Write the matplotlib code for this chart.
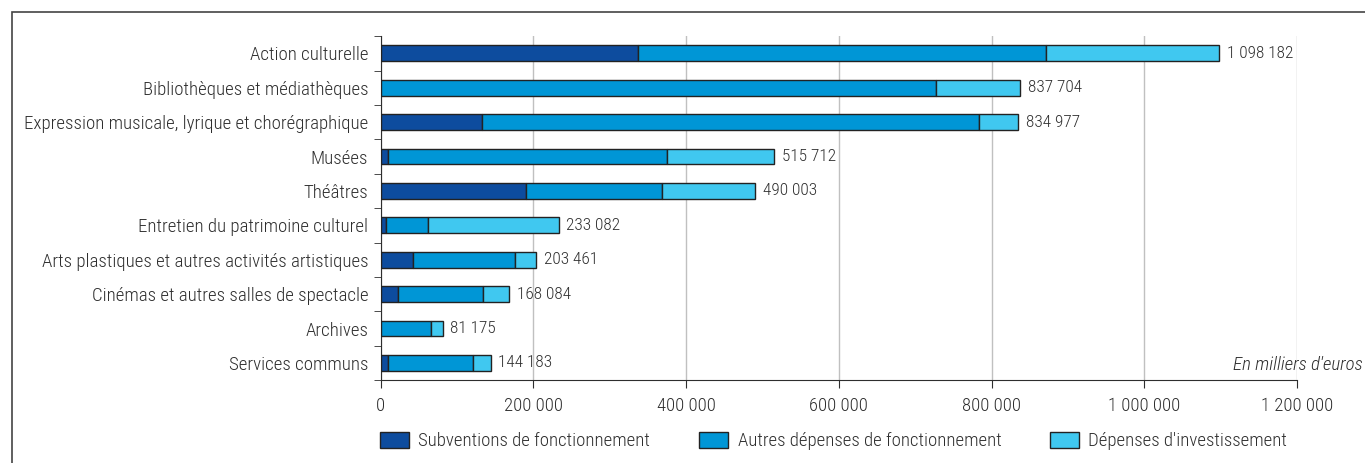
import numpy as np
import matplotlib.pyplot as plt
from matplotlib.patches import Rectangle

# donnees (en milliers d'euros)
categories = ["Action culturelle", "Bibliothèques et médiathèques",
              "Expression musicale, lyrique et chorégraphique", "Musées", "Théâtres",
              "Entretien du patrimoine culturel", "Arts plastiques et autres activités artistiques",
              "Cinémas et autres salles de spectacle", "Archives", "Services communs"]
subventions = [337000, 0, 133000, 10000, 190000, 7000, 42700, 23000, 0, 10000]
autres_fonct = [533800, 727700, 651000, 365100, 177800, 54500, 133500, 110900, 65400, 111200]
totaux = [1098182, 837704, 834977, 515712, 490003, 233082, 203461, 168084, 81175, 144183]
investissement = [t - s - a for t, s, a in zip(totaux, subventions, autres_fonct)]
series_noms = ["Subventions de fonctionnement", "Autres dépenses de fonctionnement",
               "Dépenses d'investissement"]
xticks = [0, 200000, 400000, 600000, 800000, 1000000, 1200000]

plt.rcParams['font.family'] = ['Roboto Condensed', 'DejaVu Sans']
plt.rcParams['font.weight'] = 'light'
couleurs = ['#0d4c9e', '#0096d6', '#40c8f0']
gris = '#2e2e2e'

def fmt(v):
    return '{:,}'.format(v).replace(',', ' ')

fig = plt.figure(figsize=(13.65, 4.63), dpi=100)
ax = fig.add_axes([0.2789, 0.179, 0.9502 - 0.2789, 0.743])

y = np.arange(len(categories))
gauche = np.zeros(len(categories))
for vals, c, nom in zip([subventions, autres_fonct, investissement], couleurs, series_noms):
    ax.barh(y, vals, left=gauche, height=0.46, color=c, edgecolor='#222222',
            linewidth=1.0, label=nom, zorder=3)
    gauche = gauche + np.array(vals)

for yi, t in zip(y, totaux):
    ax.text(t + 10000, yi, fmt(t), va='center', ha='left', fontsize=12.4, color=gris)

ax.set_ylim(len(categories) - 0.5, -0.5)
ax.set_xlim(0, 1200000)
ax.set_yticks(y)
ax.set_yticklabels(categories, fontsize=13.6, color=gris)
ax.set_yticks(np.arange(len(categories) + 1) - 0.5, minor=True)
ax.tick_params(axis='y', which='major', length=0, pad=9)
ax.tick_params(axis='y', which='minor', length=5, color=gris)
ax.set_xticks(xticks)
ax.set_xticklabels([fmt(v) for v in xticks], fontsize=13.4, color=gris)
ax.tick_params(axis='x', length=6, color=gris, pad=6)
ax.grid(axis='x', color='#c0c0c0', linewidth=1, zorder=0)
for s in ['top', 'right']:
    ax.spines[s].set_visible(False)
ax.spines['left'].set_color(gris)
ax.spines['bottom'].set_color(gris)

ax.text(1286000, 9.05, "En milliers d'euros", ha='right', va='center',
        fontsize=13.6, style='italic', color=gris, clip_on=False)

fig.legend(loc='center left', bbox_to_anchor=(380 / 1365, 1 - 441 / 463), ncol=3,
           frameon=False, fontsize=13.5, handlelength=1.55, handleheight=0.93,
           handletextpad=0.5, columnspacing=2.6, borderpad=0, borderaxespad=0,
           labelcolor=gris)

fig.patches.append(Rectangle((12 / 1365, -0.1), 1.2, 1 - 12 / 463 + 0.1,
                             transform=fig.transFigure, fill=False,
                             edgecolor='#444444', linewidth=1.2))

fig.savefig('out.png', dpi=100)
